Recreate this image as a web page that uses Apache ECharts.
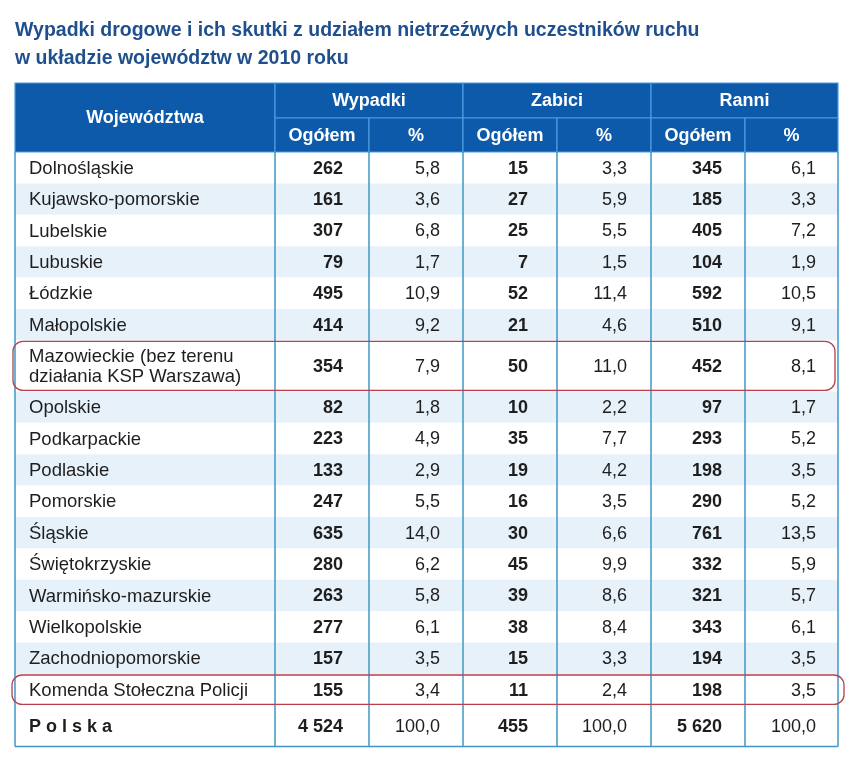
<!DOCTYPE html>
<html>
<head>
<meta charset="utf-8">
<script src="https://cdn.jsdelivr.net/npm/echarts@6/dist/echarts.min.js"></script>
<style>html,body{margin:0;padding:0;background:#fff}#c{width:852px;height:767px}</style>
</head>
<body>
<div id="c"></div>
<script>
// ---- DATA ----
const titleText = 'Wypadki drogowe i ich skutki z udziałem nietrzeźwych uczestników ruchu\nw układzie województw w 2010 roku';
const headerFirst = 'Województwa';
const groups = ['Wypadki', 'Zabici', 'Ranni'];
const subHeaders = ['Ogółem', '%'];
const regions = ['Dolnośląskie', 'Kujawsko-pomorskie', 'Lubelskie', 'Lubuskie', 'Łódzkie', 'Małopolskie',
  'Mazowieckie (bez terenu\ndziałania KSP Warszawa)', 'Opolskie', 'Podkarpackie', 'Podlaskie', 'Pomorskie',
  'Śląskie', 'Świętokrzyskie', 'Warmińsko-mazurskie', 'Wielkopolskie', 'Zachodniopomorskie', 'Komenda Stołeczna Policji'];
const wypadkiOgolem = [262, 161, 307, 79, 495, 414, 354, 82, 223, 133, 247, 635, 280, 263, 277, 157, 155];
const wypadkiPct = [5.8, 3.6, 6.8, 1.7, 10.9, 9.2, 7.9, 1.8, 4.9, 2.9, 5.5, 14.0, 6.2, 5.8, 6.1, 3.5, 3.4];
const zabiciOgolem = [15, 27, 25, 7, 52, 21, 50, 10, 35, 19, 16, 30, 45, 39, 38, 15, 11];
const zabiciPct = [3.3, 5.9, 5.5, 1.5, 11.4, 4.6, 11.0, 2.2, 7.7, 4.2, 3.5, 6.6, 9.9, 8.6, 8.4, 3.3, 2.4];
const ranniOgolem = [345, 185, 405, 104, 592, 510, 452, 97, 293, 198, 290, 761, 332, 321, 343, 194, 198];
const ranniPct = [6.1, 3.3, 7.2, 1.9, 10.5, 9.1, 8.1, 1.7, 5.2, 3.5, 5.2, 13.5, 5.9, 5.7, 6.1, 3.5, 3.5];
const totalLabel = 'P o l s k a';
const totals = [4524, 100.0, 455, 100.0, 5620, 100.0];
const highlightedRegions = ['Mazowieckie (bez terenu\ndziałania KSP Warszawa)', 'Komenda Stołeczna Policji'];

// ---- LAYOUT ----
const FONT = '"Liberation Sans", Arial, Helvetica, sans-serif';
const colW = [260, 94, 94, 94, 94, 94, 93];
const rightPad = [0, 26, 23, 29, 24, 23, 22];
const headH = [35, 34];
const bodyH = regions.map(r => r.indexOf('\n') >= 0 ? 51 : 31.4).concat([41]);
const rowH = headH.concat(bodyH);
const cum = a => a.reduce((acc, v) => { acc.push(acc[acc.length - 1] + v); return acc; }, [0]);
const xE = cum(colW), yE = cum(rowH);
const W = xE[xE.length - 1], H = yE[yE.length - 1];

const fmtInt = n => String(n).replace(/\B(?=(\d{3})+(?!\d))/g, ' ');
const fmtPct = n => n.toFixed(1).replace('.', ',');

// body cells
const cols = [wypadkiOgolem, wypadkiPct, zabiciOgolem, zabiciPct, ranniOgolem, ranniPct];
const cells = [];
regions.forEach((name, i) => {
  cells.push({ c: 0, r: i + 2, text: name, bold: false });
  cols.forEach((arr, k) => cells.push({ c: k + 1, r: i + 2, text: k % 2 === 0 ? fmtInt(arr[i]) : fmtPct(arr[i]), bold: k % 2 === 0 }));
});
const tr = regions.length + 2;
cells.push({ c: 0, r: tr, text: totalLabel, bold: true });
totals.forEach((v, k) => cells.push({ c: k + 1, r: tr, text: k % 2 === 0 ? fmtInt(v) : fmtPct(v), bold: k % 2 === 0 }));

// header cells
const heads = [{ c0: 0, c1: 1, r0: 0, r1: 2, text: headerFirst }];
groups.forEach((g, gi) => {
  heads.push({ c0: 1 + gi * 2, c1: 3 + gi * 2, r0: 0, r1: 1, text: g });
  subHeaders.forEach((s, si) => heads.push({ c0: 1 + gi * 2 + si, c1: 2 + gi * 2 + si, r0: 1, r1: 2, text: s }));
});

const bodyRows = bodyH.map((h, i) => i);
const hlRows = highlightedRegions.map(n => regions.indexOf(n));

const chart = echarts.init(document.getElementById('c'), null, { renderer: 'canvas' });

const HEAD_BG = '#0c5aa9', HEAD_LINE = '#4a9be0', STRIPE = '#e7f1fa', VLINE = '#3f97c6', TXT = '#1e1e1e';

chart.setOption({
  animation: false,
  backgroundColor: '#fff',
  title: {
    text: titleText, left: 10, top: 12,
    textStyle: { color: '#1f4f8c', fontFamily: FONT, fontSize: 19.5, fontWeight: 'bold', lineHeight: 28 }
  },
  grid: { left: 15, top: 83, width: W, height: H, containLabel: false },
  xAxis: { type: 'value', min: 0, max: W, show: false },
  yAxis: { type: 'value', min: 0, max: H, inverse: true, show: false },
  series: [
    { // row stripes
      type: 'custom', clip: false, data: bodyRows.map(i => [0, i]),
      renderItem: (params, api) => {
        const i = api.value(1);
        const p0 = api.coord([0, yE[i + 2]]), p1 = api.coord([W, yE[i + 3]]);
        const light = (i % 2 === 1) && i < regions.length;
        return { type: 'rect', shape: { x: p0[0], y: p0[1], width: p1[0] - p0[0], height: p1[1] - p0[1] },
          style: { fill: light ? STRIPE : '#ffffff' } };
      }
    },
    { // header cells
      type: 'custom', clip: false, data: heads.map(h => [h.c0, h.r0, h.c1, h.r1]),
      renderItem: (params, api) => {
        const h = heads[params.dataIndex];
        const p0 = api.coord([xE[api.value(0)], yE[api.value(1)]]);
        const p1 = api.coord([xE[api.value(2)], yE[api.value(3)]]);
        return { type: 'group', children: [
          { type: 'rect', shape: { x: p0[0], y: p0[1], width: p1[0] - p0[0], height: p1[1] - p0[1] },
            style: { fill: HEAD_BG, stroke: HEAD_LINE, lineWidth: 1.2 } },
          { type: 'text', style: { text: h.text, x: (p0[0] + p1[0]) / 2, y: (p0[1] + p1[1]) / 2 + 1,
            align: 'center', verticalAlign: 'middle', fill: '#ffffff',
            fontFamily: FONT, fontSize: 18, fontWeight: 'bold' } }
        ] };
      }
    },
    { // body vertical lines and border
      type: 'custom', clip: false, data: xE.map((x, c) => [c, 0]),
      renderItem: (params, api) => {
        const c = api.value(0);
        const p0 = api.coord([xE[c], yE[2]]), p1 = api.coord([xE[c], H]);
        const children = [{ type: 'line', shape: { x1: p0[0], y1: p0[1], x2: p1[0], y2: p1[1] },
          style: { stroke: VLINE, lineWidth: 1.5 } }];
        if (c === 0) {
          const q = api.coord([W, H]);
          children.push({ type: 'line', shape: { x1: p1[0], y1: q[1], x2: q[0], y2: q[1] },
            style: { stroke: VLINE, lineWidth: 1.5 } });
        }
        return { type: 'group', children };
      }
    },
    { // cell texts
      type: 'custom', clip: false, data: cells.map(c => [c.c, c.r]),
      renderItem: (params, api) => {
        const cell = cells[params.dataIndex];
        const c = api.value(0), r = api.value(1);
        const top = api.coord([0, yE[r]])[1], bot = api.coord([0, yE[r + 1]])[1];
        const xl = api.coord([xE[c], 0])[0], xr = api.coord([xE[c + 1], 0])[0];
        const isName = c === 0;
        return { type: 'text', style: {
          text: cell.text, x: isName ? xl + 14 : xr - rightPad[c], y: (top + bot) / 2 + 1,
          align: isName ? 'left' : 'right', verticalAlign: 'middle', fill: TXT,
          fontFamily: FONT, fontSize: isName && !cell.bold ? 18.5 : 18, fontWeight: cell.bold ? 'bold' : 'normal', lineHeight: 20 } };
      }
    },
    { // red highlight outlines
      type: 'custom', clip: false, data: hlRows.map(i => [0, i]),
      renderItem: (params, api) => {
        const i = api.value(1);
        const last = i === regions.length - 1;
        const p0 = api.coord([0, yE[i + 2]]), p1 = api.coord([W, yE[i + 3]]);
        const x0 = p0[0] - (last ? 3 : 2), x1 = p1[0] + (last ? 6 : -3);
        return { type: 'rect', shape: { x: x0, y: p0[1] + 1, width: x1 - x0, height: p1[1] - p0[1] - 2, r: 10 },
          style: { fill: 'none', stroke: '#b8404c', lineWidth: 1.3 } };
      }
    }
  ]
});
</script>
</body>
</html>
